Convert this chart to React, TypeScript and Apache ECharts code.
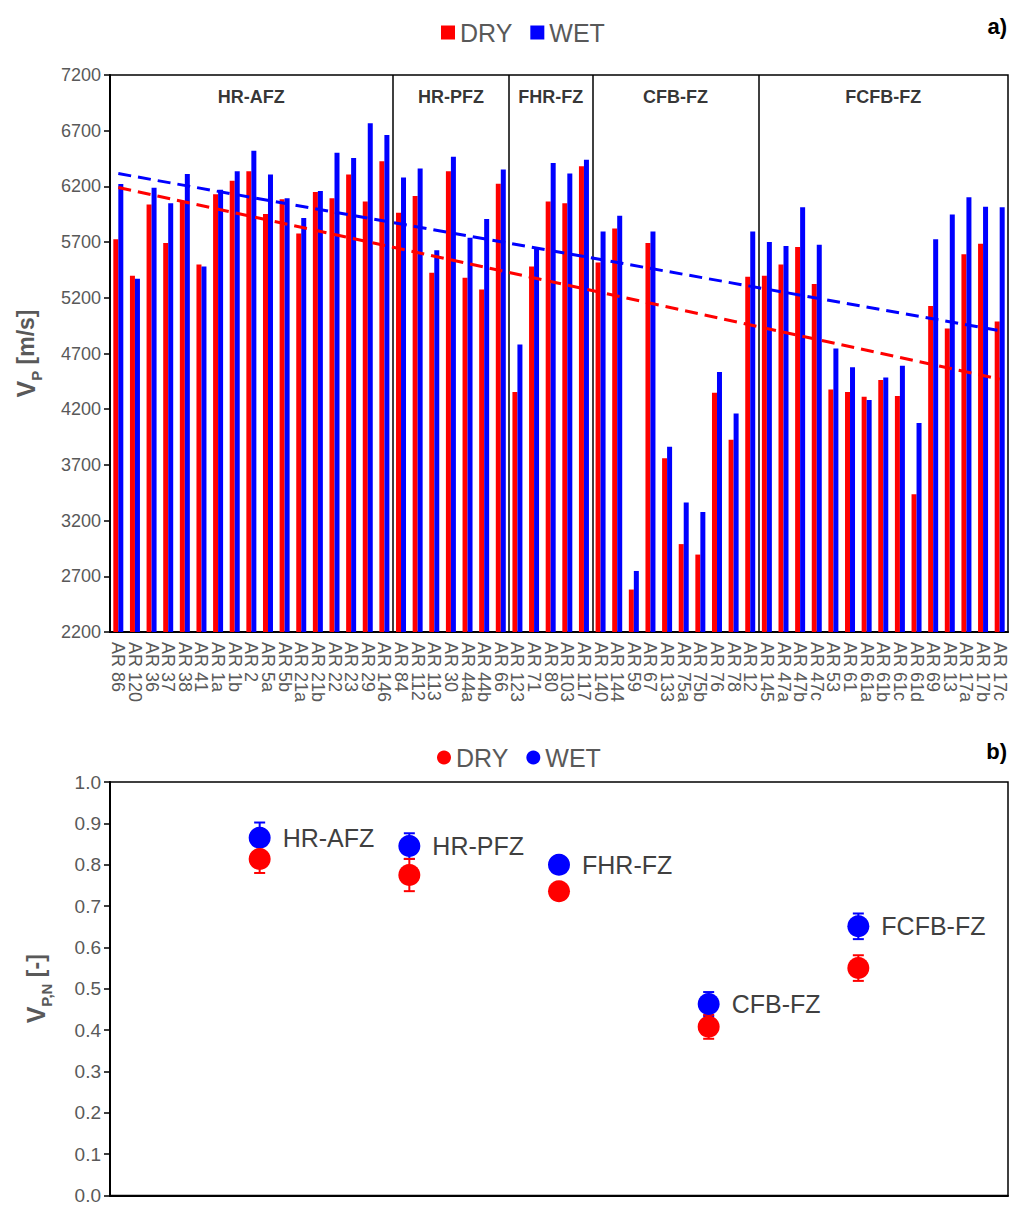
import React, { useEffect, useRef } from "react";
import * as echarts from "echarts";

// ---------- Panel a) data ----------
const categories = [
  "AR 86", "AR 120", "AR 36", "AR 37", "AR 38", "AR 41", "AR 1a", "AR 1b", "AR 2", "AR 5a", "AR 5b", "AR 21a", "AR 21b", "AR 22", "AR 23", "AR 29", "AR 146",
  "AR 84", "AR 112", "AR 113", "AR 30", "AR 44a", "AR 44b", "AR 66",
  "AR 123", "AR 71", "AR 80", "AR 103", "AR 117",
  "AR 140", "AR 144", "AR 59", "AR 67", "AR 133", "AR 75a", "AR 75b", "AR 76", "AR 78", "AR 12",
  "AR 145", "AR 47a", "AR 47b", "AR 47c", "AR 53", "AR 61", "AR 61a", "AR 61b", "AR 61c", "AR 61d", "AR 69", "AR 13", "AR 17a", "AR 17b", "AR 17c",
];
const dryValues = [
  5725, 5398, 6038, 5692, 6067, 5499, 6129, 6250, 6335, 5953, 6084, 5777, 6149, 6093, 6306, 6064, 6426,
  5963, 6113, 5424, 6335, 5379, 5274, 6224,
  4354, 5480, 6064, 6048, 6381,
  5516, 5823, 2581, 5692, 3760, 2989, 2895, 4347, 3926, 5388,
  5398, 5499, 5656, 5323, 4377, 4354, 4311, 4461, 4318, 3437, 5127, 4925, 5591, 5686, 4987,
];
const wetValues = [
  6221, 5372, 6188, 6048, 6312, 5480, 6169, 6335, 6521, 6306, 6093, 5917, 6159, 6502, 6456, 6766, 6661,
  6280, 6361, 5627, 6466, 5738, 5907, 6351,
  4781, 5637, 6410, 6315, 6440,
  5796, 5937, 2748, 5796, 3864, 3362, 3277, 4533, 4161, 5796,
  5702, 5666, 6012, 5676, 4745, 4576, 4282, 4484, 4589, 4076, 5725, 5947, 6103, 6018, 6012,
];
const groupNames = ["HR-AFZ", "HR-PFZ", "FHR-FZ", "CFB-FZ", "FCFB-FZ"];
const groupSizes = [17, 7, 5, 10, 15];
const yTicksA = [2200, 2700, 3200, 3700, 4200, 4700, 5200, 5700, 6200, 6700, 7200];
const trendX = [0.5, 53.5];
const trendDry = [6190, 4470];
const trendWet = [6315, 4905];
const groupLabelValue = 7000;

// ---------- Panel b) data ----------
const bPositions = [1, 2, 3, 4, 5];
const dryMean = [0.814, 0.775, 0.736, 0.408, 0.55];
const dryErr = [0.034, 0.039, 0.012, 0.029, 0.031];
const wetMean = [0.865, 0.845, 0.8, 0.463, 0.651];
const wetErr = [0.037, 0.031, 0.016, 0.029, 0.031];

const RED = "#FF0000";
const BLUE = "#0000FF";
const GRAY = "#595959";
const FONT = "'Liberation Sans', Arial, sans-serif";

function buildOption() {
  const boundaries: number[] = [];
  const centers: number[] = [];
  let acc = 0;
  groupSizes.forEach((s, i) => {
    centers.push(acc + s / 2);
    acc += s;
    if (i < groupSizes.length - 1) boundaries.push(acc);
  });
  const nCat = categories.length;

  const errRender = (color: string) => (params: any, api: any) => {
    const x = api.value(0);
    const lo = api.value(1);
    const hi = api.value(2);
    const pLo = api.coord([x, lo]);
    const pHi = api.coord([x, hi]);
    const w = 5.5;
    const style = { stroke: color, lineWidth: 2 };
    return {
      type: "group",
      children: [
        { type: "line", shape: { x1: pLo[0], y1: pLo[1], x2: pHi[0], y2: pHi[1] }, style },
        { type: "line", shape: { x1: pHi[0] - w, y1: pHi[1], x2: pHi[0] + w, y2: pHi[1] }, style },
        { type: "line", shape: { x1: pLo[0] - w, y1: pLo[1], x2: pLo[0] + w, y2: pLo[1] }, style },
      ],
    };
  };

  const nameRich = {
    v: { fontSize: 25, fontWeight: "bold", color: GRAY, fontFamily: FONT },
    s: { fontSize: 15, fontWeight: "bold", color: GRAY, fontFamily: FONT, verticalAlign: "bottom", padding: [0, 0, -6, 0] },
    u: { fontSize: 23, fontWeight: "bold", color: GRAY, fontFamily: FONT },
  };

  return {
    animation: false,
    textStyle: { fontFamily: FONT },
    title: [
      { text: "a)", right: 5, top: 10, textStyle: { fontSize: 22, fontWeight: "bold", color: "#000", fontFamily: FONT } },
      { text: "b)", right: 5, top: 735, textStyle: { fontSize: 22, fontWeight: "bold", color: "#000", fontFamily: FONT } },
    ],
    legend: [
      {
        left: 436, top: 15, itemWidth: 14, itemHeight: 14, itemGap: 18,
        data: [{ name: "DRY", icon: "rect" }, { name: "WET", icon: "rect" }],
        textStyle: { fontSize: 25, color: GRAY, fontFamily: FONT },
        selectedMode: false,
      },
      {
        left: 432, top: 740, itemWidth: 14, itemHeight: 14, itemGap: 18,
        data: [{ name: "DRY", icon: "circle" }, { name: "WET", icon: "circle" }],
        textStyle: { fontSize: 25, color: GRAY, fontFamily: FONT },
        selectedMode: false,
      },
    ],
    grid: [
      { left: 110, right: 9, top: 75, height: 557, show: true, borderColor: "#000", borderWidth: 1.5, backgroundColor: "transparent" },
      { left: 110, right: 9, top: 782, height: 415, show: true, borderColor: "#000", borderWidth: 1.5, backgroundColor: "transparent" },
    ],
    xAxis: [
      {
        type: "category", gridIndex: 0, data: categories,
        axisLine: { lineStyle: { color: "#000", width: 2 } },
        axisTick: { show: false },
        axisLabel: { rotate: -90, interval: 0, fontSize: 18, color: GRAY, margin: 10, fontFamily: FONT },
        splitLine: { show: false },
      },
      { type: "value", gridIndex: 0, min: 0, max: nCat, show: false },
      {
        type: "value", gridIndex: 1, min: 0, max: 6,
        axisLine: { show: true, onZero: false, lineStyle: { color: "#000", width: 2 } },
        axisTick: { show: false }, axisLabel: { show: false }, splitLine: { show: false },
      },
    ],
    yAxis: [
      {
        type: "value", gridIndex: 0, min: 2200, max: 7200,
        axisLine: { show: true, lineStyle: { color: "#000", width: 2 } },
        axisTick: { show: true, length: 6, customValues: yTicksA, lineStyle: { color: "#000", width: 1.5 } },
        axisLabel: {
          customValues: yTicksA, fontSize: 18, color: GRAY, margin: 9, fontFamily: FONT,
          formatter: (v: number) => String(Math.round(v)),
        },
        splitLine: { show: false },
        name: "{v|V}{s|P}{u| [m/s]}", nameLocation: "middle", nameRotate: 90, nameGap: 72,
        nameTextStyle: { rich: nameRich },
      },
      {
        type: "value", gridIndex: 1, min: 0, max: 1, interval: 0.1,
        axisLine: { show: true, lineStyle: { color: "#000", width: 2 } },
        axisTick: { show: true, length: 6, lineStyle: { color: "#000", width: 1.5 } },
        axisLabel: { fontSize: 19, color: GRAY, margin: 9, fontFamily: FONT, formatter: (v: number) => v.toFixed(1) },
        splitLine: { show: false },
        name: "{v|V}{s|P,N}{u| [-]}", nameLocation: "middle", nameRotate: 90, nameGap: 62,
        nameTextStyle: { rich: nameRich },
      },
    ],
    series: [
      {
        name: "DRY", type: "bar", xAxisIndex: 0, yAxisIndex: 0, data: dryValues,
        barWidth: 5, barGap: "0%", itemStyle: { color: RED },
      },
      {
        name: "WET", type: "bar", xAxisIndex: 0, yAxisIndex: 0, data: wetValues,
        barWidth: 5, barGap: "0%", itemStyle: { color: BLUE },
      },
      {
        name: "trendDry", type: "line", xAxisIndex: 1, yAxisIndex: 0,
        data: trendX.map((x, i) => [x, trendDry[i]]), symbol: "none",
        lineStyle: { color: RED, width: 3, type: [13, 7] }, z: 5, silent: true,
      },
      {
        name: "trendWet", type: "line", xAxisIndex: 1, yAxisIndex: 0,
        data: trendX.map((x, i) => [x, trendWet[i]]), symbol: "none",
        lineStyle: { color: BLUE, width: 3, type: [13, 7] }, z: 5, silent: true,
      },
      {
        name: "groups", type: "scatter", xAxisIndex: 1, yAxisIndex: 0,
        data: centers.map((c) => [c, groupLabelValue]), symbolSize: 1,
        itemStyle: { color: "rgba(0,0,0,0)" }, silent: true,
        label: {
          show: true, position: "inside", formatter: (p: any) => groupNames[p.dataIndex],
          fontSize: 18, fontWeight: "bold", color: "#000", fontFamily: FONT,
        },
        markLine: {
          silent: true, symbol: ["none", "none"], label: { show: false },
          lineStyle: { color: "#000", width: 1.5, type: "solid" },
          data: boundaries.map((b) => ({ xAxis: b })),
        },
      },
      {
        name: "wetErr", type: "custom", xAxisIndex: 2, yAxisIndex: 1,
        renderItem: errRender(BLUE),
        data: bPositions.map((x, i) => [x, wetMean[i] - wetErr[i], wetMean[i] + wetErr[i]]),
        encode: { x: 0, y: [1, 2] }, z: 2, silent: true,
      },
      {
        name: "dryErr", type: "custom", xAxisIndex: 2, yAxisIndex: 1,
        renderItem: errRender(RED),
        data: bPositions.map((x, i) => [x, dryMean[i] - dryErr[i], dryMean[i] + dryErr[i]]),
        encode: { x: 0, y: [1, 2] }, z: 2, silent: true,
      },
      {
        name: "WET", type: "scatter", xAxisIndex: 2, yAxisIndex: 1,
        data: bPositions.map((x, i) => [x, wetMean[i]]), symbolSize: 22,
        itemStyle: { color: BLUE, opacity: 1 }, z: 3,
        label: {
          show: true, position: "right", distance: 12,
          formatter: (p: any) => groupNames[p.dataIndex],
          fontSize: 25, color: "#404040", fontFamily: FONT,
        },
      },
      {
        name: "DRY", type: "scatter", xAxisIndex: 2, yAxisIndex: 1,
        data: bPositions.map((x, i) => [x, dryMean[i]]), symbolSize: 22,
        itemStyle: { color: RED, opacity: 1 }, z: 4,
      },
    ],
  };
}

export default function App() {
  const ref = useRef<HTMLDivElement>(null);
  useEffect(() => {
    document.body.style.margin = "0";
    if (!ref.current) return;
    const chart = echarts.init(ref.current, undefined, { renderer: "svg" });
    chart.setOption(buildOption() as any);
    return () => chart.dispose();
  }, []);
  return <div ref={ref} style={{ width: 1017, height: 1205 }} />;
}
